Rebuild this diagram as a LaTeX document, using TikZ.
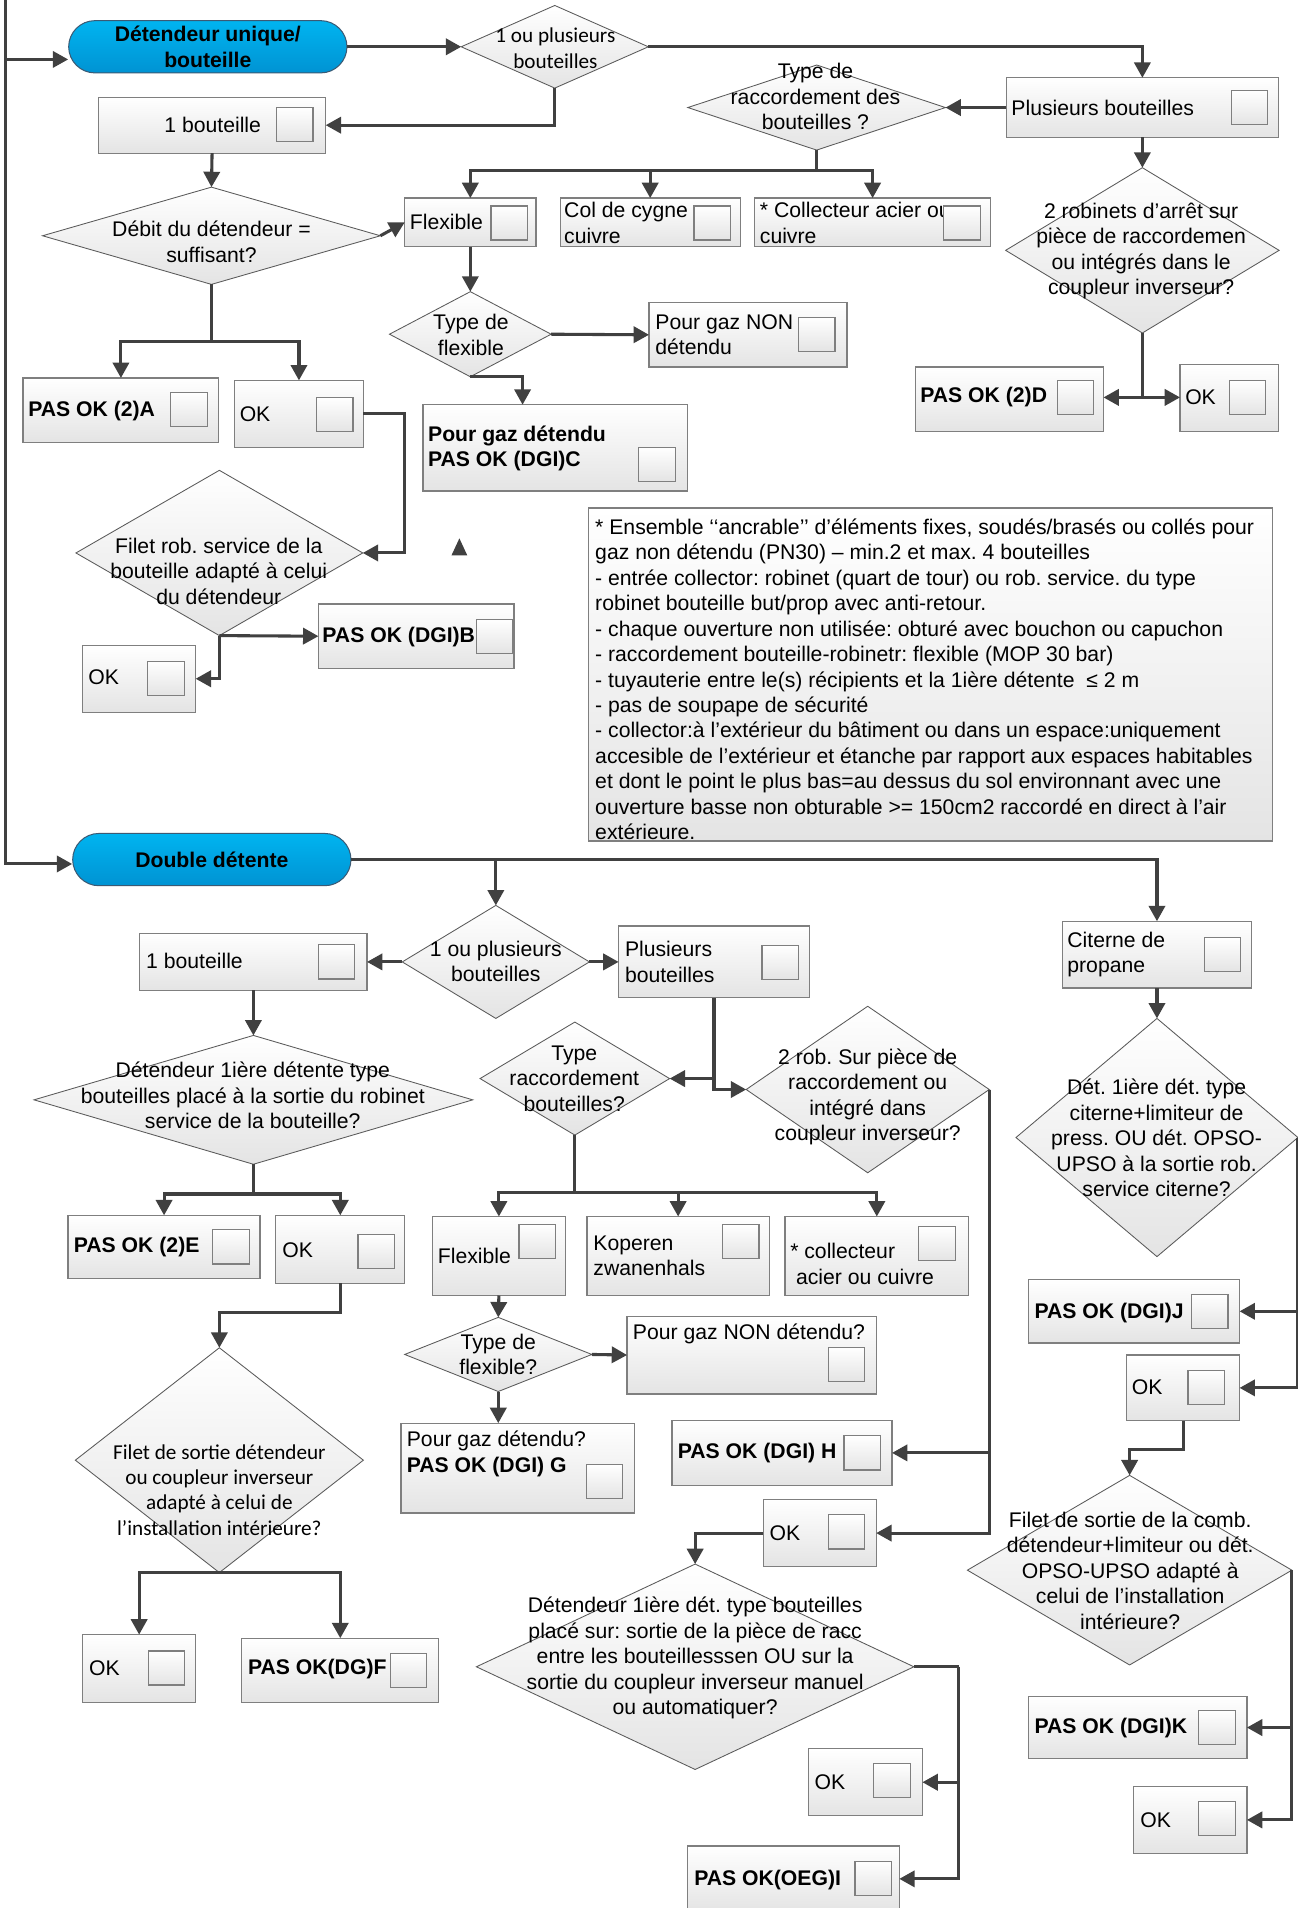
\documentclass[tikz,border=0pt]{standalone}
\usepackage{fontspec}
\setmainfont{Liberation Sans}
\newfontfamily\calibfont{Carlito}
\usetikzlibrary{arrows.meta,shapes.geometric}
\definecolor{linegray}{HTML}{404040}
\definecolor{boxline}{HTML}{7F7F7F}
\definecolor{boxfill}{HTML}{E4E4E4}
\definecolor{dialine}{HTML}{5A5A5A}
\definecolor{pilltop}{HTML}{00B4F0}
\definecolor{pillbot}{HTML}{0093D3}
\definecolor{pillline}{HTML}{3B5A74}
\newcommand{\pxu}{0.025cm}
\frenchspacing
\begin{document}
\begin{tikzpicture}[x=0.025cm,y=-0.025cm,
    font=\fontsize{12.4}{14.9}\selectfont,
    box/.style 2 args={rectangle,draw=boxline,line width=0.7pt,top color=white,bottom color=boxfill,
      minimum width=#1*\pxu,minimum height=#2*\pxu,inner sep=0pt,outer sep=0pt},
    chk/.style={rectangle,draw=boxline,line width=0.7pt,top color=white,bottom color=boxfill,
      minimum width=30*\pxu,minimum height=28*\pxu,inner sep=0pt},
    dec/.style 2 args={diamond,draw=dialine,line width=0.5pt,top color=white,bottom color=boxfill,
      minimum width=#1*\pxu,minimum height=#2*\pxu,inner sep=0pt,outer sep=0pt},
    pill/.style={rectangle,rounded corners=0.54cm,draw=pillline,line width=0.6pt,top color=pilltop,
      bottom color=pillbot,minimum width=229*\pxu,minimum height=43*\pxu,inner sep=0pt,
      font=\fontsize{12.4}{14.9}\selectfont\bfseries,align=center},
    lbl/.style={anchor=west,inner sep=0pt,align=left},
    blbl/.style={lbl,font=\fontsize{12.4}{14.9}\selectfont\bfseries},
    dtxt/.style={inner sep=0pt,align=center},
    calib/.style={font=\calibfont\fontsize{12.4}{14.9}\selectfont},
    conn/.style={draw=linegray,line width=1.8pt,-{Triangle[length=9pt,width=9.5pt]}},
    wire/.style={draw=linegray,line width=1.8pt}
  ]
  \useasboundingbox (0,0) rectangle (1068,1570);
  \fill[white] (0,0) rectangle (1068,1570);

  % upper part: detendeur unique
  \node[pill] (p1) at (171,38.5) {Détendeur unique/\\bouteille};
  \node[dec={154}{68}] (d1) at (456.5,38.5) {};
  \node[dtxt,calib] (d1t) at (457,39.5) {1 ou plusieurs\\bouteilles};
  \node[box={187}{46}] (b1) at (174.5,103) {};
  \node[lbl] (b1t) at (135,102.5) {1 bouteille};
  \node[box={224}{49}] (plus) at (940,88.5) {};
  \node[lbl] (plust) at (832,88.5) {Plusieurs bouteilles};
  \node[dec={212}{70}] (d2) at (672,88.5) {};
  \node[dtxt] (d2t) at (671,79.5) {Type de\\raccordement des\\bouteilles ?};
  \node[box={108}{40}] (flex) at (387,183) {};
  \node[lbl] (flext) at (337,182.4) {Flexible};
  \node[box={148}{40}] (cyg) at (535,183) {};
  \node[lbl] (cygt) at (464,183.5) {Col de cygne\\cuivre};
  \node[box={194}{40}] (coll) at (718,183) {};
  \node[lbl] (collt) at (625,183.5) {* Collecteur acier ou\\cuivre};
  \node[dec={278}{80}] (d3) at (174,194) {};
  \node[dtxt] (d3t) at (174,199) {Débit du détendeur =\\suffisant?};
  \node[dec={133}{70}] (d5) at (387,275) {};
  \node[dtxt] (d5t) at (387.5,275.5) {Type de\\flexible};
  \node[box={163}{53}] (nond) at (615.5,275.5) {};
  \node[lbl] (nondt) at (539,275.5) {Pour gaz NON\\détendu};
  \node[box={218}{71}] (pgC) at (457,368.5) {};
  \node[blbl] (pgCt) at (352,369) {Pour gaz détendu\\PAS OK (DGI)C};
  \node[box={161}{53}] (pokA) at (99.5,337.5) {};
  \node[blbl] (pokAt) at (23,338) {PAS OK (2)A};
  \node[box={106}{55}] (ok1) at (246,340.5) {};
  \node[lbl] (ok1t) at (197,340.5) {OK};
  \node[dec={225}{136}] (d6) at (940,206) {};
  \node[dtxt] (d6t) at (939,206.5) {2 robinets d’arrêt sur\\pièce de raccordemen\\ou intégrés dans le\\coupleur inverseur?};
  \node[box={155}{53}] (pokD) at (830.5,328.5) {};
  \node[blbl] (pokDt) at (757,327) {PAS OK (2)D};
  \node[box={81}{55}] (okD) at (1011.5,327.5) {};
  \node[lbl] (okDt) at (975,327) {OK};
  \node[dec={236}{136}] (d4) at (180.5,455) {};
  \node[dtxt] (d4t) at (180,470) {Filet rob. service de la\\bouteille adapté à celui\\du détendeur};
  \node[box={161}{53}] (pokB) at (342.5,523.5) {};
  \node[blbl] (pokBt) at (265,524) {PAS OK (DGI)B};
  \node[box={93}{55}] (okB) at (114.5,558.5) {};
  \node[lbl] (okBt) at (72.5,557.5) {OK};
  \node[box={563}{274}] (notes) at (765.5,555) {};
  \node[anchor=north west,inner sep=0pt,align=left] (notest) at (489.5,426.5) {* Ensemble ‘‘ancrable’’ d’éléments fixes, soudés/brasés ou collés pour\\gaz non détendu (PN30) – min.2 et max. 4 bouteilles\\- entrée collector: robinet (quart de tour) ou rob. service. du type\\robinet bouteille but/prop avec anti-retour.\\- chaque ouverture non utilisée: obturé avec bouchon ou capuchon\\- raccordement bouteille-robinetr: flexible (MOP 30 bar)\\- tuyauterie entre le(s) récipients et la 1ière détente\ \ ≤ 2 m\\- pas de soupape de sécurité\\- collector:à l’extérieur du bâtiment ou dans un espace:uniquement\\accesible de l’extérieur et étanche par rapport aux espaces habitables\\et dont le point le plus bas=au dessus du sol environnant avec une\\ouverture basse non obturable >= 150cm2 raccordé en direct à l’air\\extérieure.};

  % lower part: double detente
  \node[pill] (p2) at (174.3,707.3) {Double détente};
  \node[dec={154}{93}] (d7) at (408,791.5) {};
  \node[dtxt] (d7t) at (408,791) {1 ou plusieurs\\bouteilles};
  \node[box={187}{47}] (b2) at (208.5,791.5) {};
  \node[lbl] (b2t) at (120,791) {1 bouteille};
  \node[box={157}{59}] (plus2) at (587.5,791.5) {};
  \node[lbl] (plus2t) at (514,791.5) {Plusieurs\\bouteilles};
  \node[box={156}{55}] (cit) at (952,785.5) {};
  \node[lbl] (citt) at (878,785.5) {Citerne de\\propane};
  \node[dec={361}{106}] (d12) at (208.5,905) {};
  \node[dtxt] (d12t) at (208,901.5) {Détendeur 1ière détente type\\bouteilles placé à la sortie du robinet\\service de la bouteille?};
  \node[dec={156}{93}] (d8) at (473,887.5) {};
  \node[dtxt] (d8t) at (472.5,887.5) {Type\\raccordement\\bouteilles?};
  \node[dec={200}{137}] (d9) at (714,896.5) {};
  \node[dtxt] (d9t) at (714,902.5) {2 rob. Sur pièce de\\raccordement ou\\intégré dans\\coupleur inverseur?};
  \node[dec={232}{196}] (d14) at (952,936) {};
  \node[dtxt] (d14t) at (951.7,936.5) {Dét. 1ière dét. type\\citerne+limiteur de\\press. OU dét. OPSO-\\UPSO à la sortie rob.\\service citerne?};
  \node[box={158}{52}] (pokE) at (135,1026) {};
  \node[blbl] (pokEt) at (60.5,1026.5) {PAS OK (2)E};
  \node[box={106}{56}] (okE) at (280,1028) {};
  \node[lbl] (okEt) at (232,1028.5) {OK};
  \node[box={109}{65}] (flex2) at (410.5,1033.5) {};
  \node[lbl] (flex2t) at (360,1033.5) {Flexible};
  \node[box={150}{65}] (kop) at (558,1033.5) {};
  \node[lbl] (kopt) at (488,1033.5) {Koperen\\zwanenhals};
  \node[box={151}{65}] (coll2) at (721.5,1033.5) {};
  \node[lbl] (coll2t) at (650,1040) {* collecteur\\\hspace*{3.4pt}acier ou cuivre};
  \node[dec={154}{61}] (d11) at (410,1114.5) {};
  \node[dtxt] (d11t) at (410,1114.5) {Type de\\flexible?};
  \node[box={205}{64}] (nond2) at (618.5,1115) {};
  \node[lbl] (nond2t) at (520.5,1097.5) {Pour gaz NON détendu?};
  \node[box={192}{74}] (pokG) at (426,1208) {};
  \node[lbl] (pokGt) at (334.5,1196.5) {Pour gaz détendu?\\\textbf{PAS OK (DGI) G}};
  \node[box={181}{53}] (pokH) at (643.5,1195.5) {};
  \node[blbl] (pokHt) at (557.5,1196) {PAS OK (DGI) H};
  \node[box={93}{55}] (okH) at (674.5,1261.5) {};
  \node[lbl] (okHt) at (633,1261.5) {OK};
  \node[dec={237}{185}] (d13) at (180.5,1201.5) {};
  \node[dtxt,calib] (d13t) at (180.5,1226) {Filet de sortie détendeur\\ou coupleur inverseur\\adapté à celui de\\l’installation intérieure?};
  \node[dec={360}{169}] (d10) at (572,1371.5) {};
  \node[dtxt] (d10t) at (572,1364.5) {Détendeur 1ière dét. type bouteilles\\placé sur: sortie de la pièce de racc\\entre les bouteillesssen OU sur la\\sortie du coupleur inverseur manuel\\ou automatiquer?};
  \node[box={93}{56}] (okF) at (114.5,1373) {};
  \node[lbl] (okFt) at (73,1373) {OK};
  \node[box={162}{53}] (pokF) at (280,1374.5) {};
  \node[blbl] (pokFt) at (203.8,1373.5) {PAS OK(DG)F};
  \node[box={94}{55}] (okI) at (712,1466.5) {};
  \node[lbl] (okIt) at (670,1466.5) {OK};
  \node[box={174}{54}] (pokI) at (653,1546) {};
  \node[blbl] (pokIt) at (571,1547) {PAS OK(OEG)I};
  \node[box={174}{52}] (pokJ) at (933,1079) {};
  \node[blbl] (pokJt) at (851,1080) {PAS OK (DGI)J};
  \node[box={93}{54}] (okJ) at (973.5,1142) {};
  \node[lbl] (okJt) at (931,1141.5) {OK};
  \node[dec={267}{156}] (d15) at (929.5,1292) {};
  \node[dtxt] (d15t) at (930,1292.5) {Filet de sortie de la comb.\\détendeur+limiteur ou dét.\\OPSO-UPSO adapté à\\celui de l’installation\\intérieure?};
  \node[box={180}{51}] (pokK) at (936,1421.5) {};
  \node[blbl] (pokKt) at (851,1421.5) {PAS OK (DGI)K};
  \node[box={93}{55}] (okK) at (979.5,1497.5) {};
  \node[lbl] (okKt) at (938,1497.5) {OK};

  % the little squares to tick
  \foreach \cx/\cy [count=\i] in {242.5/102.5,1028/88.5,419/183.5,586/183.5,791.5/183.5,672/275,
      540.5/382,155.5/337,275.5/341,885/327,1026.5/327,407/523.5,136.5/558,277/791.5,642/792,
      1006/785.5,190/1026,309.5/1029.5,442/1021.5,609.5/1021.5,771/1023.5,696.5/1122.5,497.5/1219,
      709.5/1195.5,696.5/1260.5,995.5/1079,992.5/1141.5,1001.5/1421.5,1001.5/1496.5,137/1372.5,
      336/1374.5,734/1465,718.5/1545.5}
    \node[chk] (c\i) at (\cx,\cy) {};

  % connectors, upper part
  \coordinate (src) at (4.5,0);
  \draw[conn] (src) |- ([yshift=-0.26cm]p1.west);
  \draw[conn] (src) |- ([yshift=-0.09cm]p2.west);
  \draw[conn] (p1.east) -- (d1.west);
  \draw[conn] (d1.east) -| (plus.north);
  \draw[conn] (d1.south) |- (b1.east);
  \draw[conn] (plus.west) -- (d2.east);
  \draw[conn] (plus.south) -- (d6.north);
  \coordinate (j1) at (672,140);
  \draw[wire] (d2.south) -- (j1);
  \draw[conn] (j1) -| (flex.north);
  \draw[conn] (j1) -| (cyg.north);
  \draw[conn] (j1) -| (coll.north);
  \draw[conn] (b1.south) -- (d3.north);
  \draw[conn] (d3.east) -- (flex.west);
  \coordinate (j2) at (174,281);
  \draw[wire] (d3.south) -- (j2);
  \draw[conn] (j2) -| (pokA.north);
  \draw[conn] (j2) -| (ok1.north);
  \coordinate (k1) at (333,340.5);
  \draw[conn] (ok1.east) -- (k1) |- (d4.east);
  \draw[conn] (d4.south) -- (pokB.west);
  \draw[conn] (d4.south) |- (okB.east);
  \draw[conn] (flex.south) -- (d5.north);
  \draw[conn] (d5.east) -- (nond.west);
  \coordinate (k2) at (430,310);
  \draw[conn] (d5.south) -- (k2) -- (k2 |- pgC.north);
  \coordinate (j3) at (940,327);
  \draw[wire] (d6.south) -- (j3);
  \draw[conn] (j3) -- (j3 -| pokD.east);
  \draw[conn] (j3) -- (j3 -| okD.west);
  \fill[linegray] (378,443) -- (384.5,457) -- (371.5,457) -- cycle;

  % connectors, lower part
  \draw[conn] (p2.east) -| (cit.north);
  \draw[conn] (d7.north |- p2.east) -- (d7.north);
  \draw[conn] (d7.west) -- (b2.east);
  \draw[conn] (d7.east) -- (plus2.west);
  \coordinate (j4) at (587.5,887.5);
  \coordinate (j5) at (587.5,896.5);
  \draw[conn] (plus2.south) -- (j4) -- (d8.east);
  \draw[conn] (j4) -- (j5) -- (d9.west);
  \draw[conn] (b2.south) -- (d12.north);
  \coordinate (j6) at (208.5,982.5);
  \draw[wire] (d12.south) -- (j6);
  \draw[conn] (j6) -| (pokE.north);
  \draw[conn] (j6) -| (okE.north);
  \coordinate (k3) at (280,1080);
  \draw[conn] (okE.south) -- (k3) -| (d13.north);
  \draw[conn] (d13.south) -| (okF.north);
  \draw[conn] (d13.south) -| (pokF.north);
  \coordinate (j7) at (473,981);
  \draw[wire] (d8.south) -- (j7);
  \draw[conn] (j7) -| (flex2.north);
  \draw[conn] (j7) -| (kop.north);
  \draw[conn] (j7) -| (coll2.north);
  \draw[conn] (flex2.south) -- (d11.north);
  \draw[conn] (d11.east) -- (nond2.west);
  \draw[conn] (d11.south) -- (d11.south |- pokG.north);
  \draw[conn] (d9.east) |- (pokH.east);
  \draw[conn] (d9.east) |- (okH.east);
  \draw[conn] (okH.west) -| (d10.north);
  \coordinate (k4) at (789,1371.5);
  \draw[wire] (d10.east) -- (k4);
  \draw[conn] (k4) |- (okI.east);
  \draw[conn] (k4) |- (pokI.east);
  \draw[conn] (cit.south) -- (d14.north);
  \draw[conn] (d14.east) |- (pokJ.east);
  \draw[conn] (d14.east) |- (okJ.east);
  \coordinate (k5) at (973.5,1193);
  \draw[conn] (okJ.south) -- (k5) -| (d15.north);
  \draw[conn] (d15.east) |- (pokK.east);
  \draw[conn] (d15.east) |- (okK.east);
\end{tikzpicture}
\end{document}
